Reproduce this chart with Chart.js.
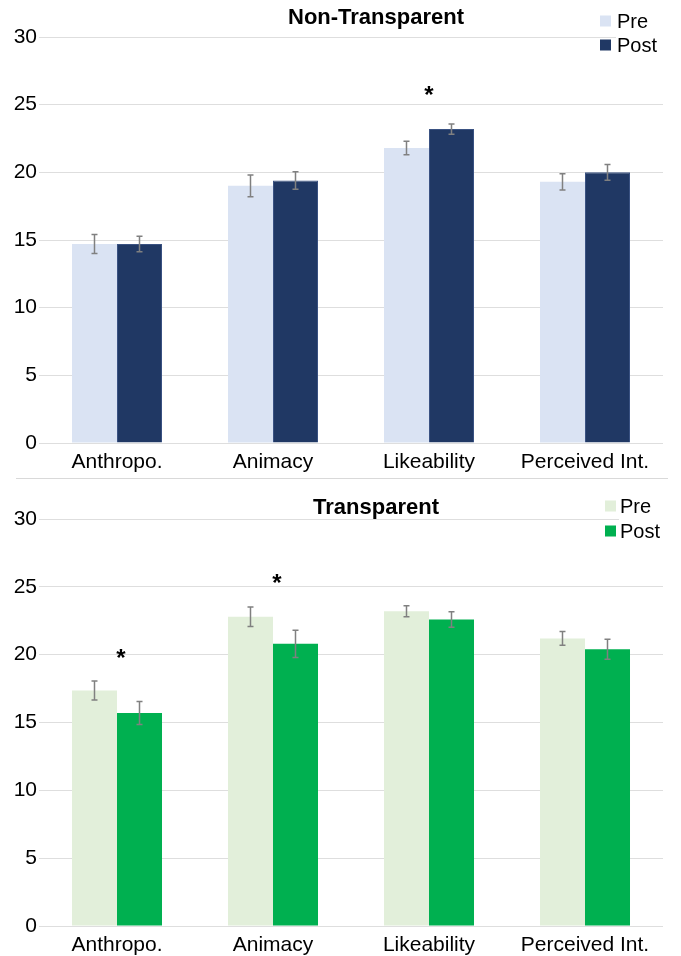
<!DOCTYPE html>
<html>
<head>
<meta charset="utf-8">
<script src="https://cdn.jsdelivr.net/npm/chart.js@4/dist/chart.umd.min.js"></script>
<style>
  html, body { margin: 0; padding: 0; background: #ffffff; }
  #wrap { position: relative; width: 681px; height: 956px; overflow: hidden; }
  canvas { position: absolute; left: 0; }
  #cTop { top: 0; }
  #cBottom { top: 478px; }
  #sep { position: absolute; left: 16px; top: 478px; width: 652px; height: 1px; background: #d9d9d9; }
</style>
</head>
<body>
<div id="wrap">
  <canvas id="cTop" width="681" height="478"></canvas>
  <canvas id="cBottom" width="681" height="478"></canvas>
  <div id="sep"></div>
</div>
<script>
// Questionnaire dimensions (x axis)
const categories = ['Anthropo.', 'Animacy', 'Likeability', 'Perceived Int.'];
const seriesNames = ['Pre', 'Post'];

// Non-Transparent condition: means and error half-widths
const nonTransparentPre = [14.7, 19.0, 21.8, 19.3];
const nonTransparentPost = [14.7, 19.4, 23.2, 20.0];
const nonTransparentPreErr = [0.70, 0.80, 0.50, 0.60];
const nonTransparentPostErr = [0.57, 0.65, 0.38, 0.58];
const nonTransparentSignificant = [false, false, true, false];

// Transparent condition: means and error half-widths
const transparentPre = [17.35, 22.8, 23.2, 21.2];
const transparentPost = [15.7, 20.8, 22.6, 20.4];
const transparentPreErr = [0.70, 0.72, 0.40, 0.50];
const transparentPostErr = [0.84, 1.00, 0.57, 0.74];
const transparentSignificant = [true, true, false, false];

// Value axis range
const yMin = 0;
const yMax = 30;
const yStep = 5;

const FONT = '"Liberation Sans", Arial, Helvetica, sans-serif';

// Draws error bars, significance stars, the panel title and the legend
const decorations = {
  id: 'decorations',
  afterDatasetsDraw(chart, args, opts) {
    const ctx = chart.ctx;
    const yScale = chart.scales.y;
    const errs = opts.errors;
    ctx.save();

    // error bars
    ctx.strokeStyle = '#808080';
    ctx.lineWidth = 1.5;
    chart.data.datasets.forEach((ds, di) => {
      const meta = chart.getDatasetMeta(di);
      meta.data.forEach((bar, i) => {
        const v = ds.data[i];
        const e = errs[di][i];
        const yHi = yScale.getPixelForValue(v + e);
        const yLo = yScale.getPixelForValue(v - e);
        const x = bar.x;
        ctx.beginPath();
        ctx.moveTo(x, yHi); ctx.lineTo(x, yLo);
        ctx.moveTo(x - 3, yHi); ctx.lineTo(x + 3, yHi);
        ctx.moveTo(x - 3, yLo); ctx.lineTo(x + 3, yLo);
        ctx.stroke();
      });
    });

    // significance stars above each marked group
    ctx.fillStyle = '#000000';
    ctx.font = 'bold 24px ' + FONT;
    ctx.textAlign = 'center';
    ctx.textBaseline = 'alphabetic';
    const m = ctx.measureText('*');
    const starShift = (m.actualBoundingBoxAscent - m.actualBoundingBoxDescent) / 2;
    opts.significant.forEach((sig, i) => {
      if (!sig) return;
      let top = Infinity;
      let xs = [];
      chart.data.datasets.forEach((ds, di) => {
        const bar = chart.getDatasetMeta(di).data[i];
        xs.push(bar.x);
        top = Math.min(top, yScale.getPixelForValue(ds.data[i] + errs[di][i]));
      });
      const cx = (Math.min(...xs) + Math.max(...xs)) / 2 + opts.starDx;
      ctx.fillText('*', cx, top - opts.starGap + starShift);
    });

    // panel title
    ctx.font = 'bold 22px ' + FONT;
    ctx.textBaseline = 'middle';
    ctx.textAlign = 'center';
    ctx.fillText(opts.title, opts.titleX, opts.titleY);

    // legend (white backing behind the labels)
    ctx.fillStyle = '#ffffff';
    ctx.fillRect(opts.legendTextX - 1, opts.legendY - 12, 52, opts.legendGap + 24);
    ctx.font = '20px ' + FONT;
    ctx.textAlign = 'left';
    chart.data.datasets.forEach((ds, di) => {
      const cy = opts.legendY + di * opts.legendGap;
      ctx.fillStyle = ds.backgroundColor;
      ctx.fillRect(opts.legendBoxX, cy - 5.5, 11, 11);
      ctx.fillStyle = '#000000';
      ctx.fillText(ds.label, opts.legendTextX, cy + 1);
    });
    ctx.restore();
  }
};

function buildChart(canvasId, pre, post, preErr, postErr, significant, colors, deco, layout) {
  return new Chart(document.getElementById(canvasId), {
    type: 'bar',
    data: {
      labels: categories,
      datasets: [
        { label: seriesNames[0], data: pre, backgroundColor: colors[0], borderWidth: 0 },
        { label: seriesNames[1], data: post, backgroundColor: colors[1],
          borderColor: colors[2], borderWidth: colors[2] ? 1 : 0 }
      ]
    },
    options: {
      responsive: false,
      animation: false,
      devicePixelRatio: 1,
      layout: { padding: { top: layout.top, right: 18, left: 0, bottom: 0 } },
      datasets: { bar: { categoryPercentage: 0.577, barPercentage: 1.0 } },
      plugins: {
        legend: { display: false },
        title: { display: false },
        tooltip: { enabled: false },
        decorations: Object.assign({ errors: [preErr, postErr], significant: significant }, deco)
      },
      scales: {
        x: {
          grid: { display: false, drawTicks: false },
          border: { display: false },
          ticks: { color: '#000000', font: { family: FONT, size: 21 }, padding: 7, maxRotation: 0 },
          afterFit(scale) { scale.height = layout.xHeight; }
        },
        y: {
          min: yMin, max: yMax,
          grid: { color: '#dedede', lineWidth: 1, drawTicks: false },
          border: { display: false },
          ticks: { stepSize: yStep, color: '#000000', font: { family: FONT, size: 21 }, padding: 2 },
          afterFit(scale) { scale.width = 39; }
        }
      }
    },
    plugins: [decorations]
  });
}

buildChart('cTop', nonTransparentPre, nonTransparentPost, nonTransparentPreErr, nonTransparentPostErr,
  nonTransparentSignificant, ['#dae3f3', '#203864', '#3a5282'],
  { title: 'Non-Transparent', titleX: 376, titleY: 18, starGap: 33, starDx: 0,
    legendBoxX: 600, legendTextX: 617, legendY: 21, legendGap: 24 },
  { top: 37, xHeight: 35 });

buildChart('cBottom', transparentPre, transparentPost, transparentPreErr, transparentPostErr,
  transparentSignificant, ['#e2efda', '#00b050', null],
  { title: 'Transparent', titleX: 376, titleY: 30, starGap: 28, starDx: 4,
    legendBoxX: 605, legendTextX: 620, legendY: 28, legendGap: 25 },
  { top: 41, xHeight: 30 });
</script>
</body>
</html>
